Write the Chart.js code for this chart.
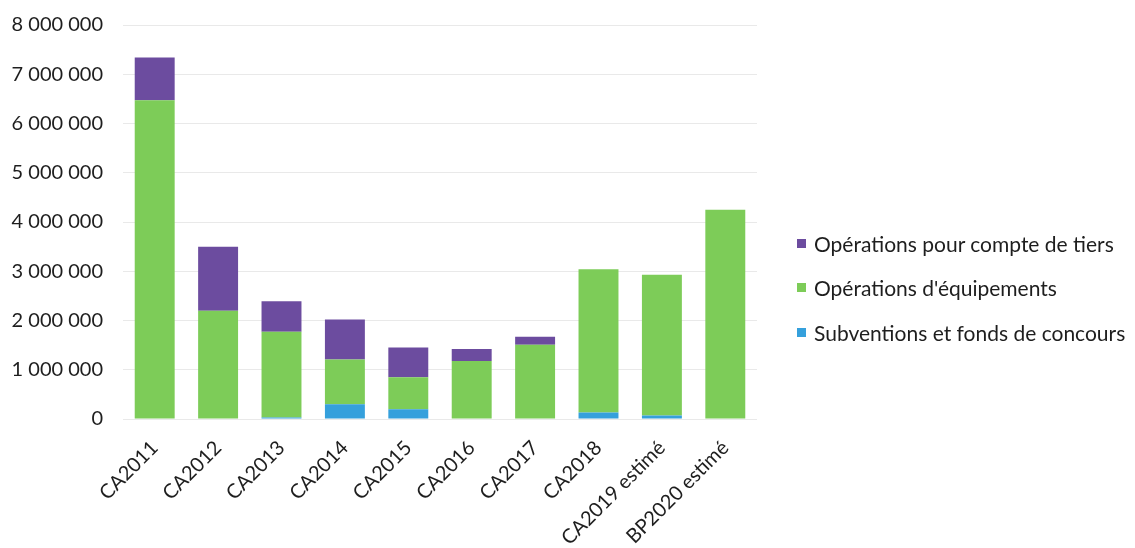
<!DOCTYPE html>
<html lang="fr">
<head>
<meta charset="utf-8">
<title>Investissements</title>
<script src="https://cdn.jsdelivr.net/npm/chart.js@4.4.1/dist/chart.umd.min.js"></script>
<style>
  html, body { margin: 0; padding: 0; background: #fff; }
  #wrap { position: relative; width: 1135px; height: 548px; }
  #chart { position: absolute; left: 0; top: 0; }
  #legend { position: absolute; left: 797px; top: 221px; font-family: Lato, "Open Sans", sans-serif; font-size: 21px; color: #1e1e1e; }
  #legend .item { display: flex; align-items: center; height: 44.5px; white-space: nowrap; }
  #legend .box { width: 9px; height: 9px; margin-right: 8px; flex: none; }
</style>
</head>
<body>
<div id="wrap">
  <canvas id="chart" width="1135" height="548"></canvas>
  <div id="legend"></div>
</div>
<script>
// Exercices budgétaires
const categories = ['CA2011', 'CA2012', 'CA2013', 'CA2014', 'CA2015', 'CA2016', 'CA2017', 'CA2018', 'CA2019 estimé', 'BP2020 estimé'];

// Montants en euros par nature de dépense
const subventions = [0, 0, 30000, 300000, 200000, 0, 0, 130000, 70000, 0];
const equipements = [6470000, 2200000, 1740000, 910000, 650000, 1180000, 1510000, 2910000, 2860000, 4250000];
const compteTiers = [870000, 1300000, 620000, 810000, 600000, 240000, 160000, 0, 0, 0];

// Graduations de l'axe vertical
const yTicks = [0, 1000000, 2000000, 3000000, 4000000, 5000000, 6000000, 7000000, 8000000];

const seriesNames = ['Subventions et fonds de concours', "Opérations d'équipements", 'Opérations pour compte de tiers'];
const seriesColors = ['#35a0dc', '#7dcc58', '#6c4c9f'];

const fontFamily = 'Lato, "Open Sans", sans-serif';

function fmt(v) {
  return String(v).replace(/\B(?=(\d{3})+(?!\d))/g, ' ');
}

const datasets = [subventions, equipements, compteTiers].map((data, i) => ({
  label: seriesNames[i],
  data: data,
  backgroundColor: seriesColors[i],
  borderWidth: 0,
  barPercentage: 0.63,
  categoryPercentage: 1.0
}));

new Chart(document.getElementById('chart'), {
  type: 'bar',
  data: { labels: categories, datasets: datasets },
  options: {
    responsive: false,
    animation: false,
    layout: { padding: { top: 7, right: 378, left: 0, bottom: 0 } },
    plugins: {
      legend: { display: false },
      tooltip: { enabled: false }
    },
    scales: {
      x: {
        stacked: true,
        grid: { display: false },
        border: { display: false },
        ticks: {
          maxRotation: 45,
          minRotation: 45,
          padding: 9,
          color: '#1e1e1e',
          font: { family: fontFamily, size: 20 }
        },
        afterFit: (scale) => { scale.height = 129; }
      },
      y: {
        stacked: true,
        min: 0,
        max: 8000000,
        afterBuildTicks: (scale) => { scale.ticks = yTicks.map(v => ({ value: v })); },
        grid: { color: '#e9e9e9', lineWidth: 1, drawTicks: false },
        border: { display: false },
        ticks: {
          padding: 20,
          color: '#1e1e1e',
          font: { family: fontFamily, size: 20, lineHeight: 0.5 },
          callback: (v) => fmt(v)
        },
        afterFit: (scale) => { scale.width = 123; }
      }
    }
  }
});

// Légende : ordre inverse de l'empilement
const legend = document.getElementById('legend');
for (let i = seriesNames.length - 1; i >= 0; i--) {
  const item = document.createElement('div');
  item.className = 'item';
  const box = document.createElement('span');
  box.className = 'box';
  box.style.background = seriesColors[i];
  const txt = document.createElement('span');
  txt.textContent = seriesNames[i];
  item.appendChild(box);
  item.appendChild(txt);
  legend.appendChild(item);
}
</script>
</body>
</html>
